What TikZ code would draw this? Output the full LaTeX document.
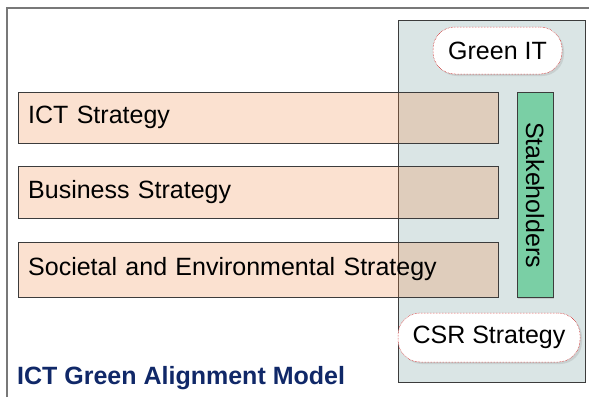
\documentclass[tikz,border=0pt]{standalone}
\usepackage{fontspec}
\setmainfont{Liberation Sans}
\usepackage{tikz}
\usetikzlibrary{shadows}
\definecolor{framegray}{RGB}{120,120,120}
\definecolor{edgegray}{RGB}{60,60,60}
\definecolor{panelblue}{RGB}{218,229,229}
\definecolor{stratorange}{RGB}{239,135,67}
\definecolor{stakegreen}{RGB}{122,207,165}
\definecolor{titlenavy}{RGB}{16,40,104}
\newcommand{\bigtext}{\fontsize{25}{30}\selectfont}
\tikzset{panelbox/.style={shape=rectangle, draw=edgegray, fill=panelblue, thin, inner sep=0pt}}
\tikzset{stratbox/.style={shape=rectangle, draw=edgegray, thin, fill=stratorange, fill opacity=0.25,
text opacity=1, text width=460pt, align=left, inner xsep=10pt, inner ysep=0pt, minimum height=#1}}
\tikzset{stakebox/.style={shape=rectangle, draw=edgegray, thin, fill=stakegreen, rotate=-90,
minimum width=205pt, minimum height=36pt, inner sep=0pt,
drop shadow={opacity=0.25, shadow xshift=1.2pt, shadow yshift=-1.2pt}}}
\tikzset{cloudbox/.style={shape=rectangle, rounded corners=22pt, draw=red!80!black, densely dotted,
line width=0.5pt, fill=white, inner sep=0pt,
drop shadow={opacity=0.2, shadow xshift=2pt, shadow yshift=-2pt}}}
\tikzstyle{title}=[inner sep=0pt, anchor=base west, text=titlenavy, font=\bigtext\bfseries]

\begin{document}
\begin{tikzpicture}[x=1pt, y=-1pt, font=\bigtext]
    \useasboundingbox (0,0) rectangle (589,397);
    % frame
    \draw [framegray, line width=2pt] (7,397) -- (7,8) -- (589,8);
    \node [panelbox, minimum width=187pt, minimum height=362pt] (panel) at (491.5, 201) {};
    % strategies
    \node [stratbox=51pt, anchor=west] (ict) at (18, 117.5) {ICT Strategy};
    \node [stratbox=52pt, anchor=west] (business) at (18, 192) {Business Strategy};
    \node [stratbox=55pt, anchor=west] (societal) at (18, 269.5) {Societal and Environmental Strategy};
    \node [stakebox] (stake) at (535, 195) {Stakeholders};
    \node [cloudbox, minimum width=129pt, minimum height=47pt] (greenit) at (497.5, 50.5) {Green IT};
    \node [cloudbox, minimum width=182pt, minimum height=49pt] (csr) at (489, 337.5) {CSR Strategy};
    \node [title] (model) at (17, 384.5) {ICT Green Alignment Model};
\end{tikzpicture}
\end{document}
